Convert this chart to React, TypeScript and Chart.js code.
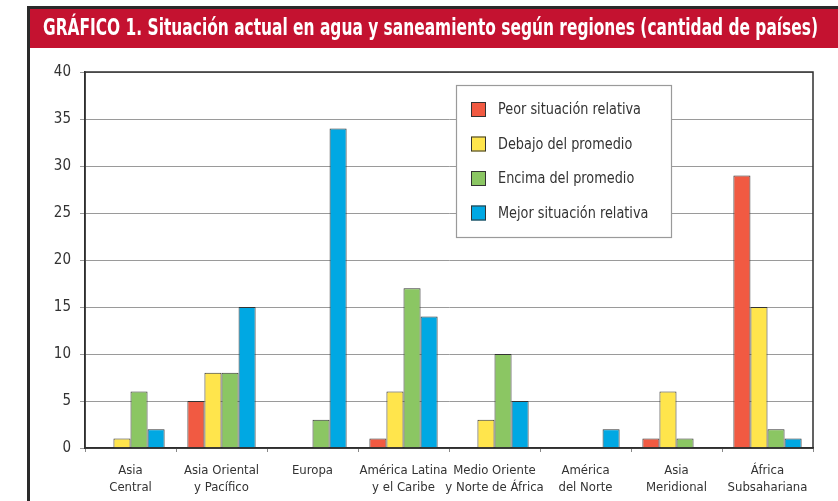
import React, { useEffect, useRef } from "react";
import { Chart, registerables } from "chart.js";

Chart.register(...registerables);

const TITLE = "GRÁFICO 1. Situación actual en agua y saneamiento según regiones (cantidad de países)";

const categories: string[][] = [
  ["Asia", "Central"],
  ["Asia Oriental", "y Pacífico"],
  ["Europa"],
  ["América Latina", "y el Caribe"],
  ["Medio Oriente", "y Norte de África"],
  ["América", "del Norte"],
  ["Asia", "Meridional"],
  ["África", "Subsahariana"],
];

const seriesNames = [
  "Peor situación relativa",
  "Debajo del promedio",
  "Encima del promedio",
  "Mejor situación relativa",
];

const peor = [0, 5, 0, 1, 0, 0, 1, 29];
const debajo = [1, 8, 0, 6, 3, 0, 6, 15];
const encima = [6, 8, 3, 17, 10, 0, 1, 2];
const mejor = [2, 15, 34, 14, 5, 2, 0, 1];

const colors = ["#f15a42", "#ffe54c", "#8bc663", "#00a8e3"];

const yTicks = [0, 5, 10, 15, 20, 25, 30, 35, 40];

const NARROW = '"Liberation Sans Narrow", "DejaVu Sans Condensed", sans-serif';

function fitText(ctx: CanvasRenderingContext2D, text: string, x: number, y: number, width: number) {
  const w = ctx.measureText(text).width;
  ctx.save();
  ctx.translate(x, y);
  ctx.scale(width / w, 1);
  ctx.fillText(text, 0, 0);
  ctx.restore();
}

const framePlugin = {
  id: "frame",
  beforeDraw(chart: any) {
    const ctx = chart.ctx as CanvasRenderingContext2D;
    ctx.save();
    ctx.fillStyle = "#ffffff";
    ctx.fillRect(0, 0, chart.width, chart.height);
    // outer frame
    ctx.fillStyle = "#2a2a2a";
    ctx.fillRect(27, 6, chart.width - 27, 3);
    ctx.fillRect(27, 6, 3, chart.height - 6);
    // red title bar
    ctx.fillStyle = "#c41230";
    ctx.fillRect(30, 9, chart.width - 30, 39);
    ctx.fillStyle = "#ffffff";
    ctx.font = `bold 23px ${NARROW}`;
    ctx.textBaseline = "middle";
    ctx.textAlign = "left";
    fitText(ctx, TITLE, 43, 29, 775);
    ctx.restore();
  },
  afterDraw(chart: any) {
    const ctx = chart.ctx as CanvasRenderingContext2D;
    const a = chart.chartArea;
    ctx.save();
    // plot border
    ctx.strokeStyle = "#2f2f2f";
    ctx.lineWidth = 1.5;
    ctx.strokeRect(a.left, a.top, a.right - a.left, a.bottom - a.top);
    // legend box
    const bx = 456, by = 85, bw = 215, bh = 152;
    ctx.fillStyle = "#ffffff";
    ctx.fillRect(bx, by, bw, bh);
    ctx.strokeStyle = "#9a9a9a";
    ctx.lineWidth = 1.2;
    ctx.strokeRect(bx + 0.5, by + 0.5, bw, bh);
    const rows = [109.5, 144, 178.5, 213];
    ctx.font = `15px ${NARROW}`;
    ctx.textBaseline = "middle";
    ctx.textAlign = "left";
    const ratio = 143 / ctx.measureText(seriesNames[0]).width;
    chart.data.datasets.forEach((ds: any, i: number) => {
      const cy = rows[i];
      ctx.fillStyle = ds.backgroundColor;
      ctx.fillRect(471, cy - 7.5, 15, 15);
      ctx.strokeStyle = "#333333";
      ctx.lineWidth = 1;
      ctx.strokeRect(471.5, cy - 7, 14, 14);
      ctx.fillStyle = "#333333";
      fitText(ctx, ds.label, 498, cy + 1, ctx.measureText(ds.label).width * ratio);
    });
    ctx.restore();
  },
};

export default function App() {
  const ref = useRef<HTMLCanvasElement>(null);
  useEffect(() => {
    document.body.style.margin = "0";
    const ctx = ref.current!.getContext("2d")!;
    const chart = new Chart(ctx, {
      type: "bar",
      data: {
        labels: categories,
        datasets: [peor, debajo, encima, mejor].map((d, i) => ({
          label: seriesNames[i],
          data: d,
          backgroundColor: colors[i],
          borderColor: "#333333",
          borderWidth: 1,
          barPercentage: 1,
          categoryPercentage: 0.75,
        })),
      },
      options: {
        responsive: false,
        animation: false,
        devicePixelRatio: 1,
        layout: { padding: { top: 72, right: 25, left: 0, bottom: 0 } },
        plugins: {
          legend: { display: false },
          tooltip: { enabled: false },
          title: { display: false },
        },
        scales: {
          x: {
            offset: true,
            afterFit: (s: any) => {
              s.height = 53;
            },
            grid: {
              display: true,
              drawOnChartArea: false,
              drawTicks: true,
              tickLength: 4,
              color: "#888888",
            },
            border: { display: true, color: "#2f2f2f", width: 1.5 },
            ticks: {
              color: "#333333",
              padding: 10,
              autoSkip: false,
              maxRotation: 0,
              font: { family: NARROW, size: 13, lineHeight: 1.3 },
            },
          },
          y: {
            min: 0,
            max: 40,
            afterFit: (s: any) => {
              s.width = 85;
            },
            afterBuildTicks: (s: any) => {
              s.ticks = yTicks.map((v) => ({ value: v }));
            },
            grid: {
              color: "#9a9a9a",
              lineWidth: 1,
              tickLength: 5,
            },
            border: { display: true, color: "#2f2f2f", width: 1.5 },
            ticks: {
              color: "#333333",
              padding: 9,
              font: { family: NARROW, size: 15 },
            },
          },
        },
      },
      plugins: [framePlugin],
    });
    return () => chart.destroy();
  }, []);
  return (
    <div style={{ position: "absolute", left: 0, top: 0, width: 838, height: 501 }}>
      <canvas ref={ref} width={838} height={501} style={{ display: "block" }} />
    </div>
  );
}
